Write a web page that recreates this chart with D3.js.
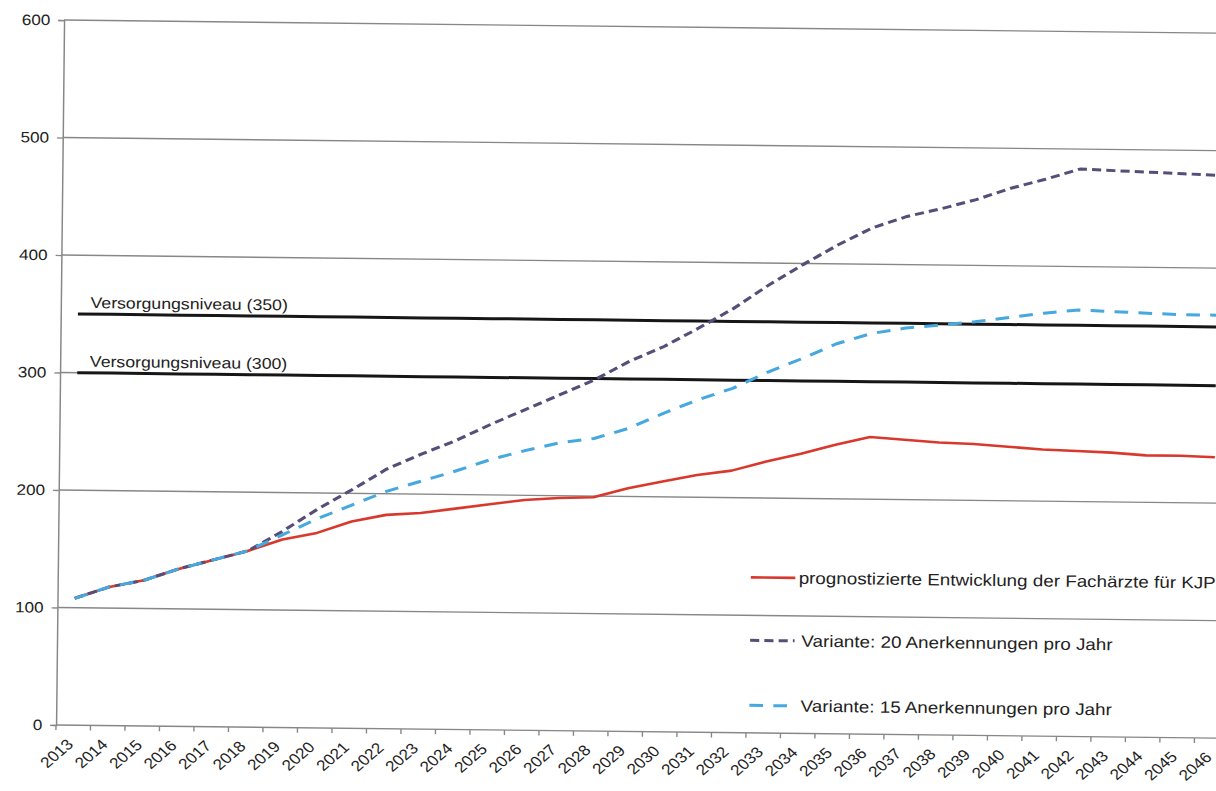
<!DOCTYPE html>
<html>
<head>
<meta charset="utf-8">
<script src="https://cdn.jsdelivr.net/npm/d3@7"></script>
<style>
  body { margin: 0; background: #fff; }
  svg text { font-family: "Liberation Sans", Arial, sans-serif; fill: #222; }
</style>
</head>
<body>
<svg id="chart" width="1216" height="791"></svg>
<script>
// ---------- data ----------
const years = ["2013","2014","2015","2016","2017","2018","2019","2020","2021","2022",
  "2023","2024","2025","2026","2027","2028","2029","2030","2031","2032","2033","2034",
  "2035","2036","2037","2038","2039","2040","2041","2042","2043","2044","2045","2046"];

const prognose = [108,118,124,134,142,150,160,166,176,182,184,188,192,196,198,199,207,
  213,219,223,231,238,246,253,251,249,248,246,244,243,242,240,240,239];

const variante20 = [108,118,124,134,142,150,167,186,203,221,234,246,260,273,286,299,315,
  328,344,361,381,399,416,431,441,448,456,466,474,483,482,481,480,479];

const variante15 = [108,118,124,134,142,150,164,178,190,202,211,220,230,238,245,249,258,
  271,283,293,307,319,332,341,346,349,352,356,360,363,362,361,360,360];

const niveauValues = [350, 300];
const niveauLabels = ["Versorgungsniveau (350)", "Versorgungsniveau (300)"];

const yTicks = [0, 100, 200, 300, 400, 500, 600];

const legendLabels = [
  "prognostizierte Entwicklung der Fachärzte für KJP",
  "Variante: 20 Anerkennungen pro Jahr",
  "Variante: 15 Anerkennungen pro Jahr"
];

// ---------- layout ----------
const svg = d3.select("#chart");
const sx = 1.14;
const innerW = 34 * 34.5 / sx, innerH = 705;
const g = svg.append("g")
  .attr("transform", `translate(56,725) rotate(0.65) scale(${sx},1)`);

const x = d3.scaleBand().domain(years).range([0, innerW]);
const y = d3.scaleLinear().domain([0, 600]).range([0, -innerH]);
const cx = d => x(d) + x.bandwidth() / 2;

// gridlines
g.append("g").selectAll("line").data(yTicks.filter(v => v > 0)).join("line")
  .attr("x1", 0).attr("x2", innerW + 20)
  .attr("y1", d => y(d)).attr("y2", d => y(d))
  .attr("stroke", "#878787").attr("stroke-width", 1.4);

// y axis
const yAxis = g.append("g").call(d3.axisLeft(y).tickValues(yTicks).tickSize(5).tickPadding(7));
yAxis.select(".domain").attr("stroke", "#878787").attr("stroke-width", 1.3);
yAxis.selectAll(".tick line").attr("stroke", "#878787").attr("stroke-width", 1.3);
yAxis.selectAll("text").style("font-size", "15px").attr("fill", "#222");

// x axis
const xAxis = g.append("g").call(d3.axisBottom(x).tickSize(0).tickPadding(0));
xAxis.select(".domain").attr("d", `M0,0H${innerW + 20}`)
  .attr("stroke", "#878787").attr("stroke-width", 1.4);
xAxis.selectAll("text")
  .style("font-size", "15px").attr("fill", "#222")
  .attr("text-anchor", "end")
  .attr("x", 0).attr("y", 0).attr("dy", "0.3em")
  .attr("transform", "translate(-2,17) rotate(-45)");
g.append("g").selectAll("line").data(years).join("line")
  .attr("x1", d => x(d)).attr("x2", d => x(d))
  .attr("y1", 0).attr("y2", 5)
  .attr("stroke", "#878787").attr("stroke-width", 1.2);

// reference lines
niveauValues.forEach((v, i) => {
  g.append("path")
    .attr("d", d3.line().x(d => cx(d)).y(() => y(v))(years))
    .attr("fill", "none").attr("stroke", "#161616").attr("stroke-width", 3);
  g.append("text")
    .attr("x", cx(years[0]) + 11).attr("y", y(v) - 6)
    .style("font-size", "15.5px")
    .text(niveauLabels[i]);
});

// series
const line = d3.line().x((d, i) => cx(years[i])).y(d => y(d));
const series = [
  { values: prognose, color: "#d9392c", width: 2.6, dash: null },
  { values: variante20, color: "#574d78", width: 3, dash: "8,4.5" },
  { values: variante15, color: "#45a8de", width: 3, dash: "12,9" }
];
series.forEach(s => {
  g.append("path").attr("d", line(s.values))
    .attr("fill", "none").attr("stroke", s.color)
    .attr("stroke-width", s.width)
    .attr("stroke-dasharray", s.dash)
    .attr("stroke-linejoin", "round");
});

// legend
const legendY = [-155.5, -92.5, -27.5];
const legendTextX = [650, 653, 653];
series.forEach((s, i) => {
  const lg = g.append("g");
  lg.append("line")
    .attr("x1", 608).attr("x2", 647)
    .attr("y1", legendY[i]).attr("y2", legendY[i])
    .attr("stroke", s.color).attr("stroke-width", s.width)
    .attr("stroke-dasharray", s.dash);
  lg.append("text")
    .attr("x", legendTextX[i]).attr("y", legendY[i]).attr("dy", "0.35em")
    .style("font-size", "16.5px")
    .text(legendLabels[i]);
});
</script>
</body>
</html>
